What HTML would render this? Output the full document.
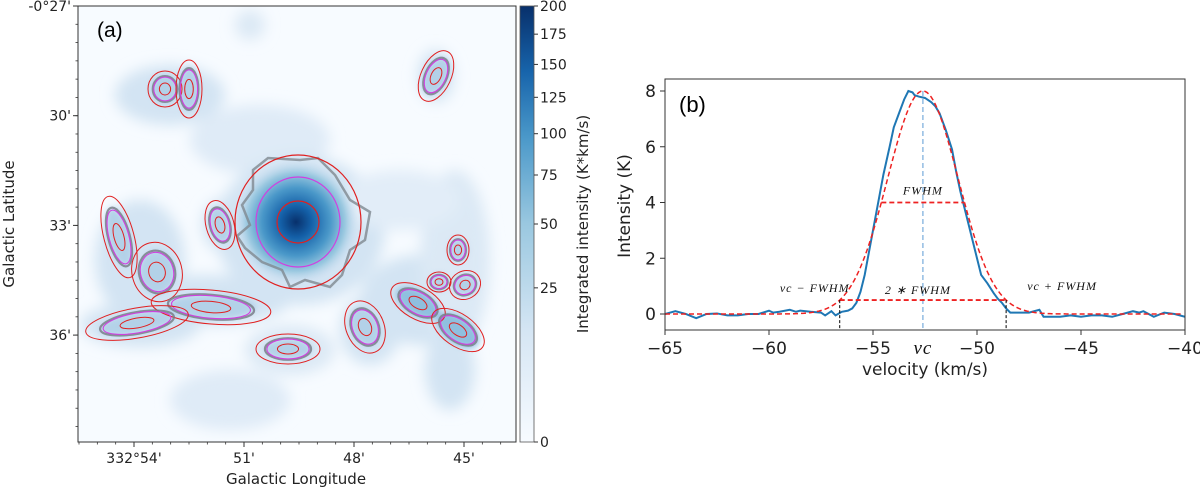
<!DOCTYPE html>
<html><head><meta charset="utf-8"><style>
html,body{margin:0;padding:0;background:#fff;}
svg{display:block;font-family:"DejaVu Sans","Liberation Sans",sans-serif;}
</style></head><body>
<svg id="fig" width="1200" height="488" viewBox="0 0 1200 488" xmlns="http://www.w3.org/2000/svg">
<defs>
<filter id="blur6" x="-50%" y="-50%" width="200%" height="200%"><feGaussianBlur stdDeviation="7"/></filter>
<filter id="blur3" x="-50%" y="-50%" width="200%" height="200%"><feGaussianBlur stdDeviation="3"/></filter>
<radialGradient id="peak" cx="0.5" cy="0.5" r="0.5">
<stop offset="0" stop-color="#08306b"/><stop offset="0.25" stop-color="#1460a8"/><stop offset="0.55" stop-color="#4a98c9"/><stop offset="0.8" stop-color="#9ecae1"/><stop offset="1" stop-color="#c6dbef" stop-opacity="0"/>
</radialGradient>
<linearGradient id="cbar" x1="0" y1="1" x2="0" y2="0">
<stop offset="0" stop-color="#f7fbff"/><stop offset="0.25" stop-color="#d6e6f4"/><stop offset="0.5" stop-color="#9ac8e0"/><stop offset="0.7" stop-color="#4a98c9"/><stop offset="0.85" stop-color="#1764ab"/><stop offset="1" stop-color="#08306b"/>
</linearGradient>
<clipPath id="mapclip"><rect x="78" y="6" width="438" height="436"/></clipPath>
<clipPath id="specclip"><rect x="665" y="79" width="520" height="251"/></clipPath>
</defs>

<g id="panel-a">
<rect x="78" y="6" width="438" height="436" fill="#f7fbff"/>
<g clip-path="url(#mapclip)">
<g filter="url(#blur6)" fill="#d3e4f3">
<ellipse cx="170" cy="95" rx="55" ry="30"/>
<ellipse cx="260" cy="140" rx="70" ry="35" fill="#dfebf7"/>
<ellipse cx="140" cy="260" rx="45" ry="60"/>
<ellipse cx="210" cy="300" rx="80" ry="25"/>
<ellipse cx="140" cy="325" rx="60" ry="22"/>
<ellipse cx="300" cy="230" rx="85" ry="75"/>
<ellipse cx="420" cy="300" rx="60" ry="45"/>
<ellipse cx="455" cy="260" rx="35" ry="90" fill="#dce9f5"/>
<ellipse cx="370" cy="330" rx="30" ry="35"/>
<ellipse cx="290" cy="350" rx="45" ry="25" fill="#dce9f5"/>
<ellipse cx="230" cy="400" rx="60" ry="30" fill="#dfebf7"/>
<ellipse cx="400" cy="200" rx="60" ry="30" fill="#e2edf8"/>
<ellipse cx="436" cy="76" rx="18" ry="26"/>
<ellipse cx="220" cy="225" rx="18" ry="25"/>
<ellipse cx="250" cy="25" rx="15" ry="15" fill="#dce9f5"/>
<ellipse cx="450" cy="370" rx="25" ry="40" fill="#d3e4f3"/>
</g>
<g filter="url(#blur3)" fill="#b3d1e8">
<ellipse cx="165" cy="89" rx="14" ry="15"/><ellipse cx="189" cy="89" rx="10" ry="22"/>
<ellipse cx="436" cy="76" rx="12" ry="20" transform="rotate(30 436 76)"/>
<ellipse cx="119" cy="237" rx="11" ry="30" transform="rotate(-15 119 237)"/>
<ellipse cx="157" cy="272" rx="18" ry="22"/>
<ellipse cx="220" cy="225" rx="10" ry="18" transform="rotate(-15 220 225)"/>
<ellipse cx="211" cy="307" rx="45" ry="12"/>
<ellipse cx="137" cy="323" rx="38" ry="10" transform="rotate(-10 137 323)"/>
<ellipse cx="288" cy="349" rx="24" ry="10"/>
<ellipse cx="365" cy="327" rx="14" ry="20" transform="rotate(-25 365 327)"/>
<ellipse cx="418" cy="303" rx="24" ry="12" transform="rotate(30 418 303)" fill="#8fbfdf"/>
<ellipse cx="458" cy="330" rx="24" ry="13" transform="rotate(35 458 330)" fill="#8fbfdf"/>
<ellipse cx="458" cy="250" rx="9" ry="11"/><ellipse cx="439" cy="282" rx="9" ry="8"/><ellipse cx="465" cy="285" rx="12" ry="10"/>
</g>
<ellipse cx="296" cy="222" rx="62" ry="62" fill="url(#peak)"/>
<path d="M253,170 L268,158 L300,160 L318,158 L335,175 L350,200 L370,212 L365,240 L350,250 L342,275 L330,287 L305,280 L290,287 L282,270 L262,262 L245,248 L237,236 L250,225 L242,205 L253,190 Z" fill="none" stroke="#808890" stroke-width="2.5" opacity="0.8"/>
</g>
<g id="clumps"></g>
<rect x="78" y="6" width="438" height="436" fill="none" stroke="#333" stroke-width="1"/>
<text x="97" y="37" font-size="21" font-family="Liberation Sans, sans-serif">(a)</text>
<g id="map-axes" font-size="14" fill="#222"></g>
<text x="296" y="484" font-size="15" text-anchor="middle" fill="#222">Galactic Longitude</text>
<text transform="translate(14,224) rotate(-90)" font-size="15" text-anchor="middle" fill="#222">Galactic Latitude</text>
<rect x="520" y="6" width="14" height="436" fill="url(#cbar)" stroke="#555" stroke-width="0.8"/>
<g id="cbar-ticks" font-size="14" fill="#222"></g>
<text transform="translate(588,224) rotate(-90)" font-size="15" text-anchor="middle" fill="#222">Integrated intensity (K*km/s)</text>
</g>

<g id="panel-b">
<g id="spec-plot"></g>
<rect x="665" y="79" width="520" height="251" fill="none" stroke="#333" stroke-width="1"/>
<text x="679" y="112" font-size="22" font-family="Liberation Sans, sans-serif">(b)</text>
<text x="925" y="375" font-size="17" text-anchor="middle" fill="#222">velocity (km/s)</text>
<text transform="translate(630,206) rotate(-90)" font-size="17" text-anchor="middle" fill="#222">Intensity (K)</text>
</g>
</svg>
<script>
// ---- map axes data ----
const lonTicks = ["332°54'", "51'", "48'", "45'"];
const lonTickPos = [54, 51, 48, 45]; // arcmin
const latTicks = ["-0°27'", "30'", "33'", "36'"];
const latTickPos = [27, 30, 33, 36];
const cbarTicks = [0, 25, 50, 75, 100, 125, 150, 175, 200];
// ---- spectrum data ----
const velocity = [-65,-64.5,-64,-63.5,-63,-62.5,-62,-61.5,-61,-60.5,-60,-59.8,-59.5,-59,-58.7,-58.5,-58,-57.5,-57.3,-57,-56.8,-56.5,-56.2,-56,-55.8,-55.6,-55.4,-55.2,-54.9,-54.7,-54.5,-54.2,-54,-53.7,-53.5,-53.3,-53.1,-53,-52.8,-52.5,-52.2,-52,-51.8,-51.5,-51.2,-51,-50.8,-50.5,-50.2,-50,-49.8,-49.5,-49.2,-49,-48.8,-48.6,-48.4,-48,-47.5,-47,-46.8,-46.5,-46,-45.5,-45,-44.5,-44,-43.5,-43,-42.5,-42.2,-42,-41.5,-41,-40.5,-40];
const intensity = [0,0.1,0,-0.15,0,0.02,-0.05,-0.05,0,0,0.12,0.05,0.08,0.15,0.08,0.12,0.08,0.05,-0.05,0.1,-0.05,0.08,0.12,0.2,0.4,0.8,1.4,2.2,3.4,4.2,5.0,6.0,6.7,7.3,7.7,8.0,7.95,7.85,7.8,7.75,7.6,7.45,7.2,6.6,5.9,5.1,4.4,3.5,2.6,2.0,1.4,1.1,0.75,0.55,0.4,0.2,0.05,0.05,0.05,0.15,-0.1,-0.1,-0.1,-0.05,-0.1,-0.05,-0.05,-0.1,0,0.1,0.05,0.1,-0.1,0.05,0,-0.1];
const gaussFit = [8.0, -52.6, 4.0]; // amplitude, centre, FWHM
const vTicks = [-65, -60, -55, -50, -45, -40];
const iTicks = [0, 2, 4, 6, 8];

const NS = "http://www.w3.org/2000/svg";
function mk(tag, attrs, parent, txt) {
  const e = document.createElementNS(NS, tag);
  for (const k in attrs) e.setAttribute(k, attrs[k]);
  if (txt !== undefined) e.textContent = txt;
  parent.appendChild(e);
  return e;
}
const lonX = a => 134 + (54 - a) * 110 / 3;
const latY = b => 6 + (b - 27) * 109.7 / 3;
const ma = document.getElementById('map-axes');
lonTicks.forEach((t, i) => {
  const x = lonX(lonTickPos[i]);
  const l = mk('line', {x1: x, x2: x, y1: 442, y2: 447, stroke: '#333'}, ma);
  
  
  const tx = mk('text', {x: x, y: 463, 'text-anchor': 'middle'}, ma, t);
  
  
});
for (let a = 55.5; a >= 43.5; a -= 0.5) {
  const x = lonX(a);
  if (x < 78 || x > 516) continue;
  const l = mk('line', {x1: x, x2: x, y1: 442, y2: 444.5, stroke: '#333', 'stroke-width': 0.8}, ma);
  
  
}
latTicks.forEach((t, i) => {
  const y = latY(latTickPos[i]);
  const l = mk('line', {x1: 73, x2: 78, y1: y, y2: y, stroke: '#333'}, ma);
  
  
  const tx = mk('text', {x: 71, y: y + 5, 'text-anchor': 'end'}, ma, t);
  
  
});
for (let b = 27; b <= 39; b += 0.5) {
  const y = latY(b);
  if (y > 442) continue;
  const l = mk('line', {x1: 75.5, x2: 78, y1: y, y2: y, stroke: '#333', 'stroke-width': 0.8}, ma);
  
  
}
const cb = document.getElementById('cbar-ticks');
const cbY = v => 442 - Math.sqrt(v / 200) * 436;
cbarTicks.forEach(v => {
  const y = cbY(v);
  const l = mk('line', {x1: 534, x2: 538, y1: y, y2: y, stroke: '#333'}, cb);
  
  
  const tx = mk('text', {x: 540, y: y + 5}, cb, String(v));
  
  
});
const clumps = [
  [165,89,17,18,0],[189,89,13,29,0],[436,76,15,27,25],[119,237,15,42,-15],
  [157,272,25,30,-15],[220,225,14,25,-15],[211,307,60,17,5],[137,323,52,15,-10],
  [288,349,32,15,0],[365,327,19,27,-22],[418,303,30,16,30],[458,330,30,16,35],
  [458,250,11,15,0],[439,282,12,10,0],[465,285,16,14,-30]
];
const cg = document.getElementById('clumps');
clumps.forEach(c => {
  const g = mk('g', {transform: `translate(${c[0]},${c[1]}) rotate(${c[4]})`}, cg);
  
  
  const gr = mk('ellipse', {rx: c[2]*0.72, ry: c[3]*0.72, fill: 'none', stroke: '#7a7f8a', 'stroke-width': 2.2, opacity: 0.85}, g);
  
  
  const m = mk('ellipse', {rx: c[2]*0.66, ry: c[3]*0.66, fill: 'none', stroke: '#d040e0', 'stroke-width': 1.1}, g);
  
  
  const o = mk('ellipse', {rx: c[2], ry: c[3], fill: 'none', stroke: '#e02020', 'stroke-width': 1}, g);
  
  
  const n = mk('ellipse', {rx: c[2]*0.33, ry: c[3]*0.33, fill: 'none', stroke: '#e02020', 'stroke-width': 1}, g);
  
  
});
[[63,67,'#e02020'],[42,45,'#d040e0'],[21,21,'#e02020']].forEach(e => {
  const el = mk('ellipse', {cx: 298, cy: 222, rx: e[0], ry: e[1], fill: 'none', stroke: e[2], 'stroke-width': 1.2}, cg);
  
  
});

// ---- spectrum ----
const sp = document.getElementById('spec-plot');
const X = v => 665 + (v + 65) * 520 / 25;
const Y = i => 314 - i * (314 - 91) / 8;
vTicks.forEach(v => {
  const x = X(v);
  const l = mk('line', {x1: x, x2: x, y1: 330, y2: 335, stroke: '#333'}, sp);
  
  
  const t = mk('text', {x: x, y: 354, 'text-anchor': 'middle', 'font-size': 17, fill: '#222'}, sp, '\u2212' + Math.abs(v));
  
  
});
iTicks.forEach(v => {
  const y = Y(v);
  const l = mk('line', {x1: 660, x2: 665, y1: y, y2: y, stroke: '#333'}, sp);
  
  
  const t = mk('text', {x: 656, y: y + 6, 'text-anchor': 'end', 'font-size': 17, fill: '#222'}, sp, String(v));
  
  
});
const pg = mk('g', {'clip-path': 'url(#specclip)'}, sp);


const [amp, vc, fwhm] = gaussFit;
const obs = mk('polyline', {points: velocity.map((v, k) => X(v) + ',' + Y(intensity[k])).join(' '), fill: 'none', stroke: '#1f77b4', 'stroke-width': 2}, pg);


const gp = [];
for (let v = -65; v <= -40; v += 0.1) gp.push(X(v) + ',' + Y(amp * Math.pow(2, -4 * Math.pow((v - vc) / fwhm, 2))));
const fit = mk('polyline', {points: gp.join(' '), fill: 'none', stroke: '#ee2222', 'stroke-width': 1.5, 'stroke-dasharray': '5,3'}, pg);


const vl = mk('line', {x1: X(vc), x2: X(vc), y1: Y(8), y2: 330, stroke: '#5b9bd5', 'stroke-width': 1, 'stroke-dasharray': '5,3'}, pg);


const hf = mk('line', {x1: X(vc - fwhm/2), x2: X(vc + fwhm/2), y1: Y(amp/2), y2: Y(amp/2), stroke: '#ee2222', 'stroke-width': 1.8, 'stroke-dasharray': '5,3'}, pg);


const lowY = amp / 16;
const f2 = mk('line', {x1: X(vc - fwhm), x2: X(vc + fwhm), y1: Y(lowY), y2: Y(lowY), stroke: '#ee2222', 'stroke-width': 1.8, 'stroke-dasharray': '5,3'}, pg);


[vc - fwhm, vc + fwhm].forEach(v => {
  const l = mk('line', {x1: X(v), x2: X(v), y1: Y(lowY), y2: 330, stroke: '#000', 'stroke-width': 1, 'stroke-dasharray': '3,2'}, pg);
  
  
});
const ann = [
  [X(vc), Y(amp/2) - 8, 'FWHM', 'fwhm-label', 12],
  [X(vc) - 5, Y(lowY) - 6, '2 \u2217 FWHM', 'two-fwhm-label', 12],
  [X(vc - fwhm) - 25, Y(lowY) - 8, '\u03bdc \u2212 FWHM', 'vc-minus-fwhm-label', 12],
  [X(vc + fwhm) + 56, Y(lowY) - 10, '\u03bdc + FWHM', 'vc-plus-fwhm-label', 12],
  [X(vc), 354, '\u03bdc', 'vc-axis-label', 19]
];
ann.forEach(a => {
  const t = mk('text', {x: a[0], y: a[1], 'text-anchor': 'middle', 'font-size': a[4], 'font-style': 'italic', 'font-family': 'Liberation Serif, serif', fill: '#111', 'letter-spacing': '1'}, sp, a[2]);
  
  
});
</script>
</body></html>
